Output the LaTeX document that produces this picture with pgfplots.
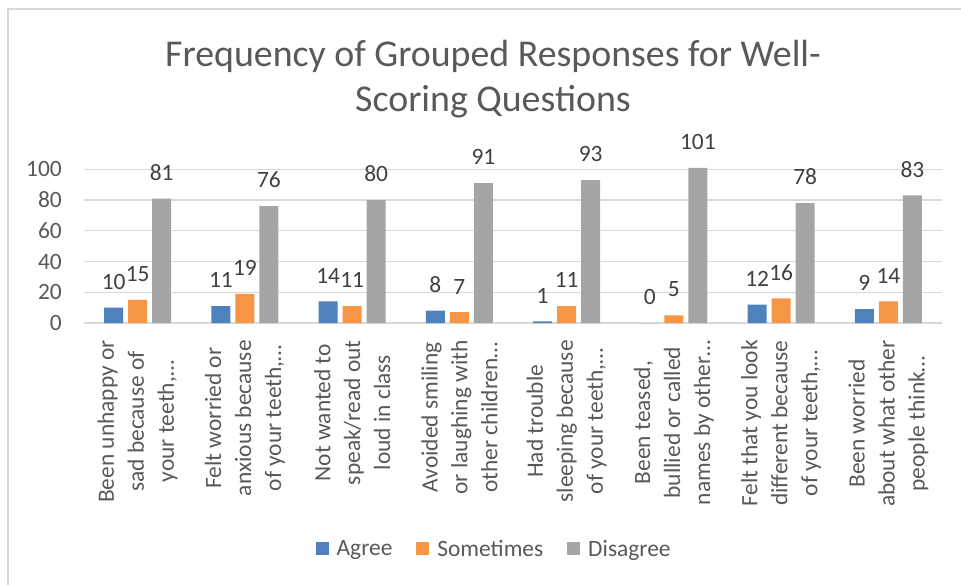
\documentclass[border=0pt]{standalone}
\usepackage{fontspec}
\setmainfont{Carlito}
\usepackage{pgfplots}
\usepackage{pgfplotstable}
\pgfplotsset{compat=1.18}

\definecolor{agree}{HTML}{4F81BD}
\definecolor{sometimes}{HTML}{F79646}
\definecolor{disagree}{HTML}{A5A5A5}
\definecolor{txt}{HTML}{595959}
\definecolor{lbl}{HTML}{404040}
\definecolor{gridc}{HTML}{D9D9D9}

% counts per question
\pgfplotstableread{
x agree sometimes disagree
0 10 15 81
1 11 19 76
2 14 11 80
3 8 7 91
4 1 11 93
5 0 5 101
6 12 16 78
7 9 14 83
}\datatable

\newcommand{\lblfont}{\fontsize{23.5}{30}\selectfont}

\begin{document}
\begin{tikzpicture}
\useasboundingbox (-84bp,-262bp) rectangle (877bp,323bp);
\fill[white] (-84bp,-262bp) rectangle (877bp,323bp);
\draw[gridc, line width=1.5bp] (-76bp,-280bp) -- (-76bp,314bp) -- (895bp,314bp);
\begin{axis}[
  scale only axis, width=858bp, height=155.2bp,
  ybar=5bp, bar width=19bp,
  xmin=-0.5, xmax=7.5, ymin=0, ymax=101,
  ytick={0,20,...,100},
  xtick={0,...,7},
  xticklabels={
    {Been unhappy or\\sad because of\\your teeth,…},
    {Felt worried or\\anxious because\\of your teeth,…},
    {Not wanted to\\speak/read out\\loud in class},
    {Avoided smiling\\or laughing with\\other children…},
    {Had trouble\\sleeping because\\of your teeth,…},
    {Been teased,\\bullied or called\\names by other…},
    {Felt that you look\\different because\\of your teeth,…},
    {Been worried\\about what other\\people think…}},
  /pgf/number format/assume math mode=true,
  axis line style={draw=none},
  major tick length=0pt,
  ymajorgrids, grid style={gridc, line width=1.2bp},
  xticklabel style={rotate=90, anchor=east, align=center, inner sep=0pt, font=\lblfont, text=txt},
  xticklabel shift=17bp,
  yticklabel style={font=\lblfont, text=txt, inner sep=0pt},
  yticklabel shift=22bp,
  nodes near coords,
  every node near coord/.append style={font=\lblfont, text=lbl, inner sep=0pt, yshift=18bp},
  title={Frequency of Grouped Responses for Well-\\Scoring Questions},
  title style={font=\fontsize{38}{45}\selectfont, text=txt, align=center, inner sep=0pt,
    at={(axis description cs:0.5,1)}, anchor=south, xshift=-20bp, yshift=44bp},
  legend style={at={(axis description cs:0.478,-1.456)}, anchor=center, draw=none,
    font=\lblfont, text=txt, legend columns=3,
    /tikz/every odd column/.append style={column sep=6bp},
    /tikz/every even column/.append style={column sep=22bp}},
  legend image code/.code={\fill[#1] (0bp,-6.5bp) rectangle (13bp,6.5bp);},
]
\addplot[fill=agree, draw=none] table[x=x, y=agree] {\datatable};
\addplot[fill=sometimes, draw=none] table[x=x, y=sometimes] {\datatable};
\addplot[fill=disagree, draw=none] table[x=x, y=disagree] {\datatable};
\legend{Agree, Sometimes, Disagree}
\end{axis}
\end{tikzpicture}
\end{document}
